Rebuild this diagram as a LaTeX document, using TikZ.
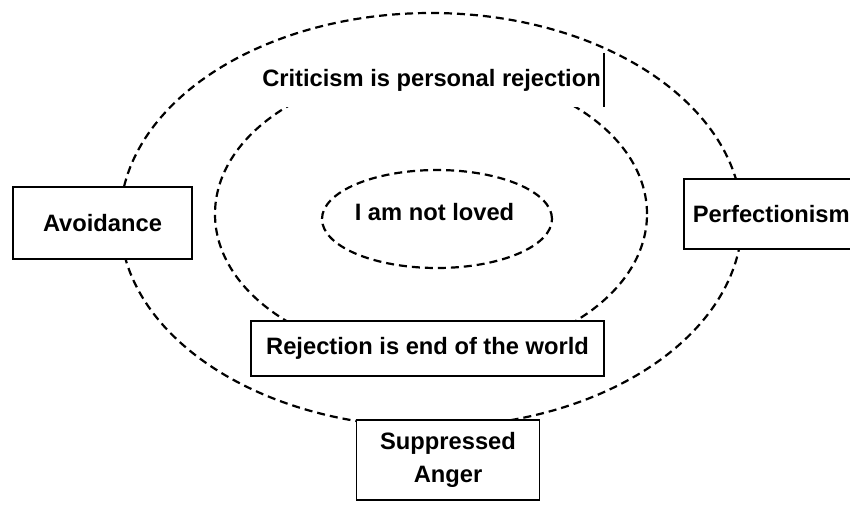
\documentclass[tikz,border=0pt]{standalone}
\usepackage{fontspec}
\setmainfont{Liberation Sans}
\usetikzlibrary{shapes.geometric}
\begin{document}
\begin{tikzpicture}[x=1pt,y=-1pt,
  ring/.style={draw=black, ellipse, line width=2.2pt, dash pattern=on 8pt off 5pt, inner sep=0pt},
  box/.style={draw=black, fill=white, line width=1.8pt, inner sep=0pt, font=\fontsize{23.7}{33}\selectfont\bfseries, align=center},
  lbl/.style={inner sep=0pt, font=\fontsize{23.7}{33}\selectfont\bfseries}]
\useasboundingbox (0,0) rectangle (850,509);
% rings
\node[ring, minimum width=622pt, minimum height=414pt] (outer) at (431,220) {};
\node[ring, minimum width=432pt, minimum height=288pt] (middle) at (431,214) {};
\node[ring, minimum width=230pt, minimum height=98pt] (core) at (437,219) {};
\node[lbl] (coretext) at (434.5,212) {I am not loved};
% top label: white box with only its right edge drawn
\node[fill=white, inner xsep=3pt, inner ysep=0pt, minimum height=54pt, font=\fontsize{23.7}{33}\selectfont\bfseries, anchor=east] (crit) at (604,80) {Criticism is personal rejection};
\draw[line width=1.8pt] (crit.north east) -- (crit.south east);
% boxes
\node[box, minimum width=179pt, minimum height=72pt] (avoid) at (102.5,223) {Avoidance};
\node[box, anchor=west, inner xsep=9pt, minimum height=70pt] (perf) at (683,214) {Perfectionism};
\node[box, minimum width=353pt, minimum height=55pt] (rej) at (427.5,348.5) {Rejection is end of the world};
\node[box, minimum width=183pt, minimum height=80pt] (anger) at (448,460) {Suppressed\\Anger};
\end{tikzpicture}
\end{document}
